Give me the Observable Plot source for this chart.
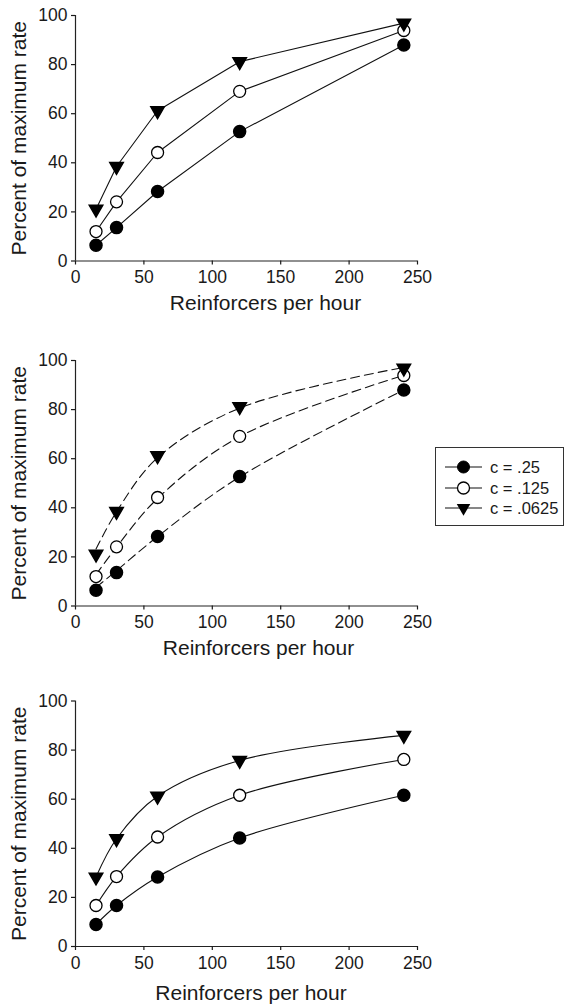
<!DOCTYPE html>
<html><head><meta charset="utf-8">
<script src="https://cdn.jsdelivr.net/npm/d3@7"></script>
<script src="https://cdn.jsdelivr.net/npm/@observablehq/plot@0.6"></script>
<style>
body{margin:0;background:#fff;}
#wrap{position:relative;width:566px;height:1005px;font-family:"Liberation Sans",Arial,sans-serif;color:#1a1a1a;}
#wrap > svg{display:block;}
#legend{position:absolute;left:435px;top:447px;width:129px;height:79px;border:1px solid #333;background:#fff;box-sizing:border-box;}
.lrow{position:absolute;left:0;height:20px;display:flex;align-items:center;font-size:16.5px;}
.lrow svg{display:block;}
</style></head><body><div id="wrap"></div>
<script>
// ---- data ----
const rates = [15, 30, 60, 120, 240];
const seriesLabels = ["c = .25", "c = .125", "c = .0625"];
// top and middle panels: observed points
const obsC25 = [6.4, 13.6, 28.3, 52.7, 88.0];
const obsC125 = [12.0, 24.1, 44.2, 69.1, 93.9];
const obsC0625 = [21.1, 38.5, 61.2, 81.2, 96.9];
// middle panel: fitted dashed curves
const fitC25 = [7.6, 14.4, 28.3, 52.6, 88.0];
const fitC125 = [12.8, 24.0, 43.8, 69.0, 94.0];
const fitC0625 = [23.2, 38.4, 60.4, 80.6, 97.2];
// bottom panel
const botC25 = [9.0, 16.7, 28.3, 44.2, 61.6];
const botC125 = [16.7, 28.5, 44.6, 61.6, 76.2];
const botC0625 = [28.3, 43.9, 61.2, 75.8, 86.0];
const xTicks = [0, 50, 100, 150, 200, 250];
const yTicks = [0, 20, 40, 60, 80, 100];
const xLabel = "Reinforcers per hour";
const yLabel = "Percent of maximum rate";

// ---- helpers ----
function rows(arrs) {
  return arrs.flatMap((vals, i) => vals.map((v, j) => ({x: rates[j], y: v, s: seriesLabels[i]})));
}
const styles = [
  {symbol: "circle", fill: "#000", stroke: "#000", r: 6},
  {symbol: "circle", fill: "#fff", stroke: "#000", r: 6, strokeWidth: 1.3},
  {symbol: "triangle", fill: "#000", stroke: "#000", r: 5, rotate: 180}
];

function panel({dots, lines, curve, dash, marginTop, marginBottom, labelDx, labelDy}) {
  const innerH = 245.5;
  return Plot.plot({
    width: 566,
    height: marginTop + innerH + marginBottom,
    marginLeft: 75,
    marginRight: 149,
    marginTop,
    marginBottom,
    style: {fontFamily: '"Liberation Sans", Arial, sans-serif', fontSize: "17.5px", color: "#1a1a1a", background: "transparent", overflow: "visible"},
    x: {domain: [0, 250]},
    y: {domain: [0, 100]},
    marks: [
      Plot.ruleX([0], {y1: 0, y2: 100, stroke: "#222", strokeWidth: 1.2}),
      Plot.ruleY([0], {x1: 0, x2: 250, stroke: "#222", strokeWidth: 1.2}),
      Plot.axisX(xTicks, {tickSize: 4, tickPadding: 6, label: null, strokeWidth: 1.2}),
      Plot.axisY(yTicks, {tickSize: 4, tickPadding: 4, label: null, strokeWidth: 1.2}),
      Plot.line(lines, {x: "x", y: "y", z: "s", curve, stroke: "#111", strokeWidth: 1.1, strokeDasharray: dash}),
      ...styles.map((st, i) => Plot.dot(dots.filter(d => d.s === seriesLabels[i]), {x: "x", y: "y", ...st})),
      Plot.text([xLabel], {text: d => d, frameAnchor: "bottom", textAnchor: "middle", lineAnchor: "middle", dx: labelDx, dy: labelDy, fontSize: 21}),
      Plot.text([yLabel], {text: d => d, frameAnchor: "left", textAnchor: "middle", lineAnchor: "middle", rotate: -90, dx: -56.5, fontSize: 21})
    ]
  });
}

const wrap = document.getElementById("wrap");
const topData = rows([obsC25, obsC125, obsC0625]);
wrap.append(panel({dots: topData, lines: topData, curve: "linear", dash: null,
  marginTop: 15, marginBottom: 51.5, labelDx: 19, labelDy: 42}));
wrap.append(panel({dots: topData, lines: rows([fitC25, fitC125, fitC0625]), curve: "catmull-rom", dash: "9,5",
  marginTop: 48, marginBottom: 54.5, labelDx: 12, labelDy: 42}));
const botData = rows([botC25, botC125, botC0625]);
wrap.append(panel({dots: botData, lines: botData, curve: "catmull-rom", dash: null,
  marginTop: 40.5, marginBottom: 59, labelDx: 4.5, labelDy: 47}));

// ---- legend ----
const legend = document.createElement("div");
legend.id = "legend";
const rowTops = [9, 30, 50];
seriesLabels.forEach((lab, i) => {
  const row = document.createElement("div");
  row.className = "lrow";
  row.style.top = rowTops[i] + "px";
  const st = styles[i];
  const svg = d3.create("svg").attr("width", 54).attr("height", 20);
  svg.append("line").attr("x1", 9).attr("x2", 46).attr("y1", 10).attr("y2", 10).attr("stroke", "#111").attr("stroke-width", 1.1);
  if (st.symbol === "circle") {
    svg.append("circle").attr("cx", 27.5).attr("cy", 10).attr("r", 6).attr("fill", st.fill).attr("stroke", "#000").attr("stroke-width", st.strokeWidth || 1);
  } else {
    svg.append("path").attr("transform", "translate(27.5,10) rotate(180)")
      .attr("d", d3.symbol(d3.symbolTriangle, Math.PI * 25)()).attr("fill", "#000");
  }
  row.append(svg.node());
  const t = document.createElement("span");
  t.textContent = lab;
  row.append(t);
  legend.append(row);
});
wrap.append(legend);
</script></body></html>
